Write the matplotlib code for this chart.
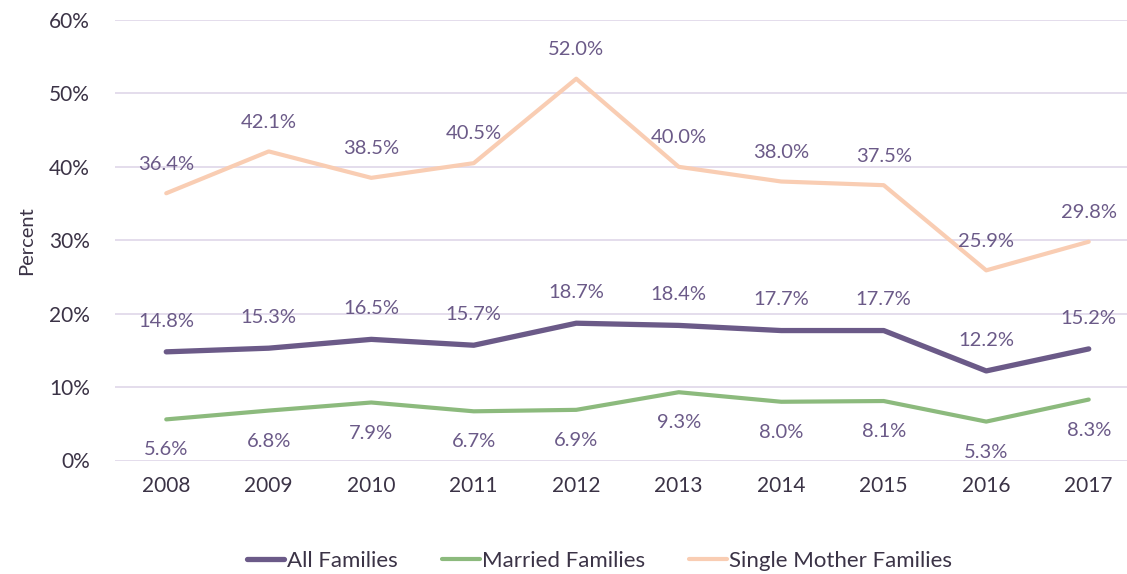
import numpy as np
import matplotlib.pyplot as plt

plt.rcParams['font.family'] = ['Lato', 'DejaVu Sans']

years = ['2008', '2009', '2010', '2011', '2012', '2013', '2014', '2015', '2016', '2017']
all_families = [14.8, 15.3, 16.5, 15.7, 18.7, 18.4, 17.7, 17.7, 12.2, 15.2]
married = [5.6, 6.8, 7.9, 6.7, 6.9, 9.3, 8.0, 8.1, 5.3, 8.3]
single_mother = [36.4, 42.1, 38.5, 40.5, 52.0, 40.0, 38.0, 37.5, 25.9, 29.8]

c_all = '#6B5A88'
c_mar = '#8CBA7D'
c_sin = '#F9CDB3'
c_lab = '#6B5A88'
c_txt = '#3B3346'

fig = plt.figure(figsize=(11.27, 5.74), dpi=100)
ax = fig.add_axes([115 / 1127, 1 - 460.5 / 574, 1 - 115 / 1127, (460.5 - 20) / 574])

x = np.arange(len(years))
ax.plot(x, all_families, color=c_all, lw=3.8, solid_capstyle='round', label='All Families', zorder=3)
ax.plot(x, married, color=c_mar, lw=3.0, solid_capstyle='round', label='Married Families', zorder=3)
ax.plot(x, single_mother, color=c_sin, lw=3.0, solid_capstyle='round', label='Single Mother Families', zorder=3)

# data labels
for xi, v in zip(x, single_mother):
    ax.annotate(f'{v:.1f}%', (xi, v), xytext=(0, 21), textcoords='offset points',
                ha='center', va='center', fontsize=14.5, color=c_lab, zorder=4)
for xi, v in zip(x, all_families):
    ax.annotate(f'{v:.1f}%', (xi, v), xytext=(0, 22), textcoords='offset points',
                ha='center', va='center', fontsize=14.5, color=c_lab, zorder=4)
for xi, v in zip(x, married):
    ax.annotate(f'{v:.1f}%', (xi, v), xytext=(0, -22), textcoords='offset points',
                ha='center', va='center', fontsize=14.5, color=c_lab, zorder=4)

ax.set_ylim(0, 60)
ax.set_yticks(range(0, 61, 10))
ax.set_yticklabels([f'{t}%' for t in range(0, 61, 10)])
ax.set_xlim(-0.5, 9.5 - 13 / 102.7)
ax.set_xticks(x)
ax.set_xticklabels(years)
ax.tick_params(axis='both', length=0, labelsize=15, colors=c_txt)
ax.tick_params(axis='y', pad=18)
ax.tick_params(axis='x', pad=11)
ax.grid(axis='y', color='#E2DAEA', lw=1.3)
ax.set_axisbelow(True)
for s in ax.spines.values():
    s.set_visible(False)
ax.set_ylabel('Percent', fontsize=14.5, color=c_txt, labelpad=10)

leg = fig.legend(loc='center', bbox_to_anchor=(0.532, 1 - 561 / 574), ncol=3, frameon=False,
                 fontsize=16, handlelength=1.7, handletextpad=0.1, columnspacing=2.0)
for t in leg.get_texts():
    t.set_color(c_txt)

fig.savefig('out.png', dpi=100)
